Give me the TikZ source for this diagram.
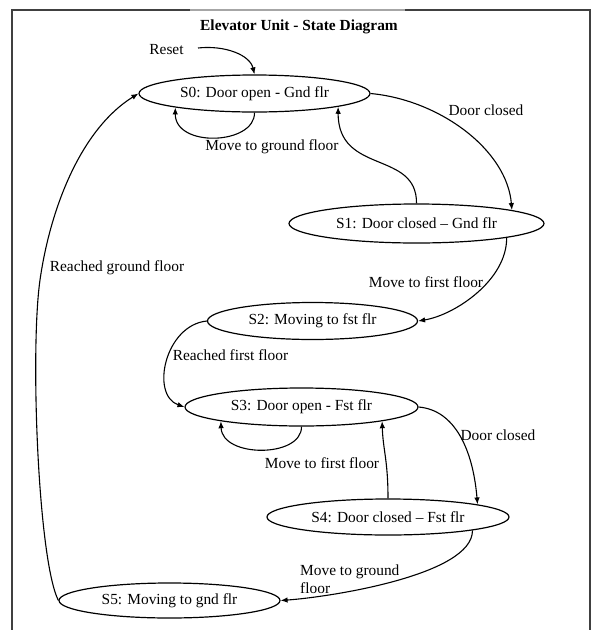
\documentclass[tikz,border=0pt]{standalone}
\usepackage{fontspec}
\setmainfont{Liberation Serif}
\usetikzlibrary{shapes.geometric,arrows.meta}
\begin{document}
\begin{tikzpicture}[x=1pt,y=-1pt,
  every node/.style={font=\fontsize{15.4}{18}\selectfont},
  st/.style={ellipse, draw, line width=1.2pt, inner sep=0pt},
  tr/.style={draw, line width=1.1pt, -{Latex[length=7pt,width=5.5pt]}},
  lbl/.style={inner sep=0pt},
  frame/.style={line width=2pt, draw=black!75}]
\useasboundingbox (0,0) rectangle (593,630);
% frame
\draw[frame] (12,630) -- (12,10) -- (190,10);
\draw[line width=2pt, draw=black!35] (190,10) -- (405,10);
\draw[frame] (405,10) -- (590,10) -- (590,630);
% title
\node[lbl, font=\fontsize{15.4}{18}\selectfont\bfseries] (title) at (299,27) {Elevator Unit - State Diagram};
% states
\node[st, minimum width=231, minimum height=37] (S0) at (254.5,93.5) {S0: Door open - Gnd flr};
\node[st, minimum width=255, minimum height=39] (S1) at (416.5,223.5) {S1: Door closed – Gnd flr};
\node[st, minimum width=210, minimum height=37] (S2) at (312.5,321) {S2: Moving to fst flr};
\node[st, minimum width=233, minimum height=38] (S3) at (301.5,407) {S3: Door open - Fst flr};
\node[st, minimum width=242, minimum height=36] (S4) at (388,517) {S4: Door closed – Fst flr};
\node[st, minimum width=221, minimum height=35] (S5) at (169.5,600.5) {S5: Moving to gnd flr};
% labels
\node[lbl] (reset) at (166.5,50) {Reset};
\coordinate (r0) at (198,48);
\node[lbl] (l1) at (272,147) {Move to ground floor};
\node[lbl] (l2) at (486,110) {Door closed};
\node[lbl] (l3) at (426,282) {Move to first floor};
\node[lbl] (l4) at (230.5,355) {Reached first floor};
\node[lbl] (l5) at (322,463) {Move to first floor};
\node[lbl] (l6) at (498,435) {Door closed};
\node[lbl, align=left, anchor=west] (l7) at (300,579) {Move to ground\\floor};
\node[lbl] (l8) at (117,268) {Reached ground floor};
% transitions
\draw[tr] (r0) .. controls (225,45) and (250,55) .. (S0.north);
\draw[tr] (S0.south) .. controls (255,145) and (175,148) .. (S0.190);
\draw[tr] (S0.east) .. controls (440,100) and (507,150) .. (S1.8.6);
\draw[tr] (S1.north) .. controls (417,150) and (338,175) .. (S0.351);
\draw[tr] (S1.351.4) .. controls (507,280) and (455,315) .. (S2.east);
\draw[tr] (S2.west) .. controls (165,325) and (150,395) .. (S3.west);
\draw[tr] (S3.south) .. controls (302,458) and (222,458) .. (S3.190);
\draw[tr] (S3.east) .. controls (455,410) and (473,450) .. (S4.8.6);
\draw[tr] (S4.north) .. controls (388,460) and (383,450) .. (S3.350.5);
\draw[tr] (S4.351.4) .. controls (473,575) and (330,597) .. (S5.east);
\draw[tr] (S5.west) .. controls (38,560) and (30,350) .. (40,280)
  .. controls (50,210) and (80,130) .. (S0.west);
\end{tikzpicture}
\end{document}
